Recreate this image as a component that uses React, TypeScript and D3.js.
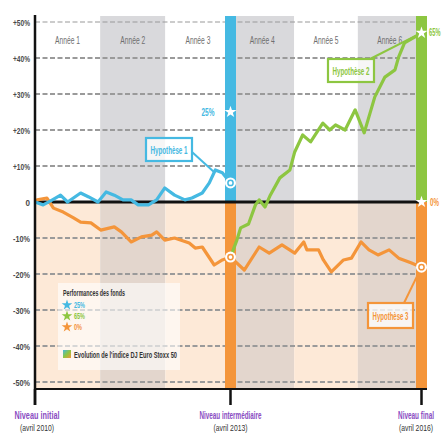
import React from "react";
import * as d3 from "d3";

const yTicks = [50, 40, 30, 20, 10, 0, -10, -20, -30, -40, -50];
const yTickLabels = ["+50%", "+40%", "+30%", "+20%", "+10%", "0", "-10%", "-20%", "-30%", "-40%", "-50%"];
const years = ["Année 1", "Année 2", "Année 3", "Année 4", "Année 5", "Année 6"];

const blueMonths = [0, 1.5, 3.2, 4.7, 6, 8.4, 9.9, 11.6, 13.1, 14.6, 16.2, 17.7, 19, 20.9, 22.4, 23.9, 25.7, 27.6, 28.9, 30.8, 32.1, 33.2, 34.5, 36];
const blueValues = [0, -0.8, 0.6, 1.9, 0, 2.5, 1.4, 0, 2.8, 1.9, 0.6, 0.6, -0.8, -0.8, 0.6, 3.9, 1.9, 0.6, 1.1, 2.5, 5.3, 8.9, 8.1, 5.3];

const orangeMonths = [0, 0.4, 2.2, 3.4, 5.2, 7.1, 8.4, 10.3, 12.1, 14.6, 15.9, 17.7, 19.6, 21.5, 22.4, 23.9, 25.7, 28.4, 29.5, 30.8, 33, 34.5, 36, 38.6, 41.4, 43.3, 45.7, 48.1, 49.8, 50.4, 52.6, 53.5, 55, 57.3, 58.8, 60.6, 62.1, 63.8, 65.9, 67.7, 70, 72];
const orangeValues = [0, 0.6, 1.1, -1.7, -2.8, -4.4, -5.6, -5.8, -7.8, -6.9, -8.3, -11.1, -9.7, -9.2, -8.3, -10.6, -10, -11.4, -12.8, -12.5, -17.5, -16.1, -15.3, -18.9, -12.5, -14.2, -11.9, -14.2, -11.1, -13.3, -13.3, -16.1, -19.4, -16.1, -15.6, -11.1, -13.3, -14.7, -13.3, -15.6, -16.9, -18.1];

const greenMonths = [36, 37.2, 37.9, 39.4, 40.7, 41.4, 42.5, 43.5, 45.3, 47.2, 48.1, 49.6, 51.1, 53.4, 54.7, 55.8, 57.6, 59.5, 61.2, 63.2, 65.1, 67, 67.7, 68.8, 70.7, 72];
const greenValues = [-15.3, -10.6, -7.2, -6.1, -0.8, 0.6, -1.4, 1.9, 6.7, 8.9, 13.9, 18.6, 16.7, 21.9, 20, 21.4, 20, 25.6, 19.2, 29.2, 34.7, 36.7, 40.3, 44.2, 45.8, 46.9];

const fundLabels = ["25%", "65%", "0%"];
const fundValues = [25, 47, 0];
const fundMonths = [36, 72, 72];

const levelNames = ["Niveau initial", "Niveau intermédiaire", "Niveau final"];
const levelDates = ["(avril 2010)", "(avril 2013)", "(avril 2016)"];
const levelMonths = [0, 36, 72];

const BLUE = "#45b9e2";
const GREEN = "#8dc641";
const ORANGE = "#f4953a";
const PURPLE = "#8a4cc2";
const FONT = "'Liberation Sans', Arial, sans-serif";

let measureCtx: CanvasRenderingContext2D | null = null;
function measure(text: string, size: number, bold: boolean): number {
  if (!measureCtx && typeof document !== "undefined") {
    measureCtx = document.createElement("canvas").getContext("2d");
  }
  if (!measureCtx) return text.length * size * 0.55;
  measureCtx.font = `${bold ? "bold " : ""}${size}px ${FONT}`;
  return measureCtx.measureText(text).width || text.length * size * 0.55;
}

type TProps = {
  x: number;
  y: number;
  len: number;
  size: number;
  fill: string;
  bold?: boolean;
  anchor?: "start" | "middle" | "end";
  children: string;
};
function NText({ x, y, len, size, fill, bold = false, anchor = "start", children }: TProps) {
  const w = measure(children, size, bold);
  const sx = len / w;
  return (
    <text
      transform={`translate(${x},${y}) scale(${sx},1)`}
      textAnchor={anchor}
      fontSize={size}
      fontWeight={bold ? "bold" : "normal"}
      fill={fill}
      fontFamily={FONT}
    >
      {children}
    </text>
  );
}

export default function App() {
  const x = d3.scaleLinear().domain([0, 36, 72]).range([35, 230.5, 421.5]);
  const y = d3.scaleLinear().domain([-50, 50]).range([382, 22]);
  const top = 16;
  const bottom = 389;
  const zero = y(0);
  const bandW = 11;

  const line = d3
    .line<[number, number]>()
    .x((d) => x(d[0]))
    .y((d) => y(d[1]));
  const toPts = (ms: number[], vs: number[]) => ms.map((m, i) => [m, vs[i]] as [number, number]);

  const star = d3.symbol().type(d3.symbolStar).size(45)() as string;
  const starSmall = d3.symbol().type(d3.symbolStar).size(35)() as string;

  const circleMarker = (cx: number, cy: number, color: string, key: string) => (
    <g key={key}>
      <circle cx={cx} cy={cy} r={5.5} fill="#fff" />
      <circle cx={cx} cy={cy} r={2.6} fill="none" stroke={color} strokeWidth={1.5} />
    </g>
  );

  const hypBox = (bx: number, by: number, w: number, h: number, color: string, label: string, key: string) => (
    <g key={key}>
      <rect x={bx} y={by} width={w} height={h} fill="#fff" fillOpacity={0.75} stroke={color} strokeWidth={2.2} />
      <NText x={bx + w / 2} y={by + h / 2 + 4} len={w - 9} size={10.5} bold fill={color} anchor="middle">
        {label}
      </NText>
    </g>
  );

  return (
    <svg width={442} height={437} style={{ position: "absolute", left: 0, top: 0, background: "#fff" }}>
      <defs>
        <linearGradient id="swatch" x1="0" y1="0" x2="1" y2="1">
          <stop offset="0" stopColor={BLUE} />
          <stop offset="0.5" stopColor={GREEN} />
          <stop offset="1" stopColor={ORANGE} />
        </linearGradient>
      </defs>
      {/* year shading */}
      {years.map((yr, i) => {
        const x0 = x(i * 12);
        const x1 = x((i + 1) * 12);
        const grey = i % 2 === 1;
        return (
          <g key={yr}>
            <rect x={x0} y={top} width={x1 - x0} height={zero - top} fill={grey ? "#d9d9dc" : "#ffffff"} />
            <rect x={x0} y={zero} width={x1 - x0} height={bottom - zero} fill={grey ? "#e3d6cd" : "#fde9d7"} />
            <NText x={(x0 + x1) / 2} y={44} len={25} size={10} fill="#6f6f6f" anchor="middle">
              {yr}
            </NText>
          </g>
        );
      })}
      {/* gridlines */}
      {yTicks.map((t, i) =>
        t === 0 ? null : (
          <line key={"g" + i} x1={35} x2={426} y1={y(t)} y2={y(t)} stroke="#9a9a9a" strokeWidth={i === 0 ? 1.2 : 2} strokeDasharray="5,2.5" />
        )
      )}
      {/* y labels */}
      {yTicks.map((t, i) => (
        <NText key={"yl" + i} x={30} y={y(t) + 3.5} len={t === 0 ? 4.5 : 17} size={9} bold fill="#4a4a4a" anchor="end">
          {yTickLabels[i]}
        </NText>
      ))}
      {/* vertical level bands */}
      <rect x={x(36) - bandW / 2} y={top} width={bandW} height={zero - top} fill={BLUE} />
      <rect x={x(36) - bandW / 2} y={zero} width={bandW} height={bottom - zero} fill={ORANGE} />
      <rect x={x(72) - bandW / 2} y={top} width={bandW} height={zero - top} fill={GREEN} />
      <rect x={x(72) - bandW / 2} y={zero} width={bandW} height={bottom - zero} fill={ORANGE} />

      {/* zero line */}
      <line x1={35} x2={x(72)} y1={zero} y2={zero} stroke="#111" strokeWidth={3} />

      {/* connectors */}
      <line x1={192} y1={152} x2={214} y2={172} stroke={BLUE} strokeWidth={2} />
      <line x1={370} y1={59} x2={x(72) - 4} y2={y(47) + 2} stroke={GREEN} strokeWidth={2} />
      <line x1={404} y1={303} x2={x(72) - 2} y2={y(-18.1) + 4} stroke={ORANGE} strokeWidth={2} />

      {/* series */}
      <path d={line(toPts(orangeMonths, orangeValues)) || ""} fill="none" stroke={ORANGE} strokeWidth={3.2} strokeLinejoin="round" />
      <path d={line(toPts(blueMonths, blueValues)) || ""} fill="none" stroke={BLUE} strokeWidth={3.2} strokeLinejoin="round" />
      <path d={line(toPts(greenMonths, greenValues)) || ""} fill="none" stroke={GREEN} strokeWidth={3.2} strokeLinejoin="round" />

      {/* hypothesis boxes */}
      {hypBox(146, 138, 46, 23, BLUE, "Hypothèse 1", "h1")}
      {hypBox(328, 59, 46, 23, GREEN, "Hypothèse 2", "h2")}
      {hypBox(368, 303, 45, 25, ORANGE, "Hypothèse 3", "h3")}

      {/* markers */}
      {circleMarker(x(36), y(5.3), BLUE, "c1")}
      {circleMarker(x(36), y(-15.3), ORANGE, "c2")}
      {circleMarker(x(72), y(-18.1), ORANGE, "c3")}
      {fundValues.map((v, i) => (
        <path key={"s" + i} d={star} transform={`translate(${x(fundMonths[i])},${y(v)})`} fill="#fff" />
      ))}
      <NText x={208} y={y(25) + 3.5} len={13} size={10} bold fill={BLUE} anchor="middle">
        {fundLabels[0]}
      </NText>
      <NText x={429} y={y(47) + 3.5} len={11.5} size={10} bold fill={GREEN}>
        {fundLabels[1]}
      </NText>
      <NText x={430} y={y(0) + 3.5} len={9} size={10} bold fill={ORANGE}>
        {fundLabels[2]}
      </NText>

      {/* axes */}
      <line x1={35} x2={35} y1={top - 1} y2={405} stroke="#111" strokeWidth={2.5} />
      <line x1={35} x2={x(72) + bandW / 2} y1={bottom} y2={bottom} stroke="#111" strokeWidth={2} />
      {levelMonths.map((m, i) => {
        const cx = i === 0 ? 37 : i === 2 ? 416 : x(m);
        const nameLen = [45, 62, 36][i];
        return (
          <g key={"lv" + i}>
            <line x1={x(m)} x2={x(m)} y1={bottom} y2={405} stroke="#111" strokeWidth={2.5} />
            <NText x={cx} y={419} len={nameLen} size={10} bold fill={PURPLE} anchor="middle">
              {levelNames[i]}
            </NText>
            <NText x={cx} y={431} len={34} size={9} fill="#333" anchor="middle">
              {levelDates[i]}
            </NText>
          </g>
        );
      })}

      {/* legend */}
      <rect x={58} y={283} width={122} height={87} fill="#fff" fillOpacity={0.6} />
      <NText x={63} y={296} len={62} size={8.5} bold fill="#333">
        Performances des fonds
      </NText>
      {[BLUE, GREEN, ORANGE].map((c, i) => (
        <g key={"lg" + i}>
          <path d={starSmall} transform={`translate(${67},${305 + i * 11})`} fill={c} />
          <NText x={74} y={308 + i * 11} len={i === 2 ? 8 : 11} size={8.5} bold fill={c}>
            {fundLabels[i]}
          </NText>
        </g>
      ))}
      <rect x={63} y={350} width={8} height={8} fill="url(#swatch)" />
      <NText x={74} y={357.5} len={103} size={8.5} bold fill="#333">
        Evolution de l'indice DJ Euro Stoxx 50
      </NText>
    </svg>
  );
}
